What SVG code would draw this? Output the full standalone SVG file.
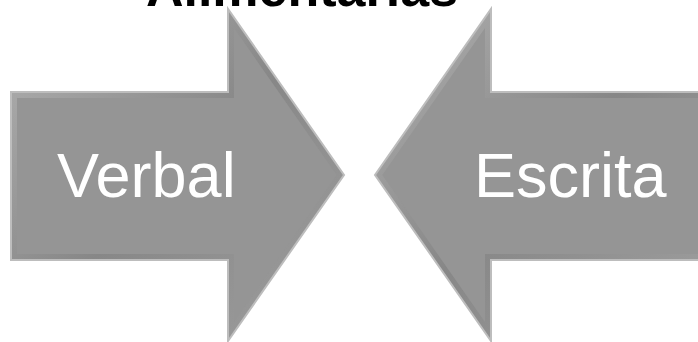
<svg xmlns="http://www.w3.org/2000/svg" width="698" height="342" viewBox="0 0 698 342">
  <style>
    .outer { fill: url(#bevel); stroke: #bdbdbd; stroke-width: 2; }
    .inner { fill: #959595; }
    .label { font-family: "Liberation Sans", Arial, sans-serif; font-size: 63px; fill: #ffffff; }
    .title { font-family: "Liberation Sans", Arial, sans-serif; font-size: 52px; font-weight: bold; fill: #000000; }
  </style>
  <defs>
    <linearGradient id="bevel" x1="0" y1="0" x2="1" y2="1">
      <stop offset="0" stop-color="#b2b2b2"/>
      <stop offset="0.5" stop-color="#878787"/>
      <stop offset="1" stop-color="#a0a0a0"/>
    </linearGradient>
  </defs>
  <rect width="698" height="342" fill="#ffffff"/>
  <g id="title">
    <text class="title" x="302" y="6" text-anchor="middle">Alimentarias</text>
  </g>
  <g id="verbal">
    <path class="outer" d="M11,92 L228,92 L228,9 L344,175 L228,341 L228,260 L11,260 Z"/>
    <path class="inner" d="M17,98 L234,98 L234,28 L336.7,175 L234,322 L234,254 L17,254 Z"/>
    <text class="label" x="57" y="197">Verbal</text>
  </g>
  <g id="escrita">
    <path class="outer" d="M700,92 L491,92 L491,9 L375,175 L491,341 L491,260 L700,260 Z"/>
    <path class="inner" d="M700,98 L485,98 L485,28 L382.3,175 L485,322 L485,254 L700,254 Z"/>
    <text class="label" x="474" y="197">Escrita</text>
  </g>
</svg>
